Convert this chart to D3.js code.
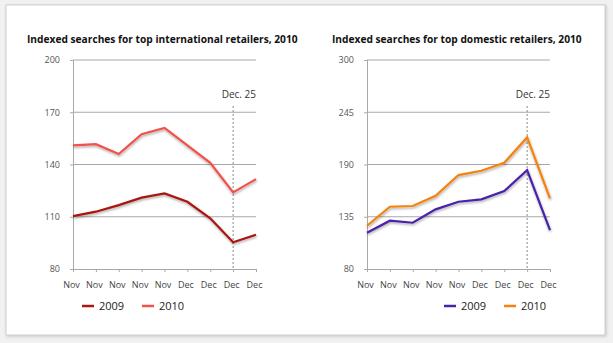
<!DOCTYPE html>
<html>
<head>
<meta charset="utf-8">
<script src="https://cdn.jsdelivr.net/npm/d3@7"></script>
<style>
  body { margin: 0; background: #f1f1f1; }
  text { font-family: "Open Sans", "Liberation Sans", sans-serif; }
</style>
</head>
<body>
<div id="root"></div>
<script>
// categories along the x axis
let months = ["Nov", "Nov", "Nov", "Nov", "Nov", "Dec", "Dec", "Dec", "Dec"];

// international retailers
let intl2009 = [110.4, 112.9, 116.7, 121, 123.4, 118.6, 109.1, 95.3, 99.7];
let intl2010 = [151, 151.7, 146, 157.4, 161, 151, 141, 124, 131.6];
let intlTicks = [80, 110, 140, 170, 200];

// domestic retailers
let dom2009 = [118.2, 130.8, 128.7, 142.8, 150.8, 153.3, 162, 184.1, 121];
let dom2010 = [125.5, 145.5, 146.3, 157, 178.9, 183.4, 191.8, 218.5, 154.3];
let domTicks = [80, 135, 190, 245, 300];

let xmasIndex = 7;

let W = 613, H = 343;

let svg = d3.select("#root").append("svg")
  .attr("width", W).attr("height", H);

// frame with soft shadow
let defs = svg.append("defs");
let f = defs.append("filter").attr("id", "sh").attr("x", "-5%").attr("y", "-5%").attr("width", "110%").attr("height", "110%");
f.append("feDropShadow").attr("dx", 1).attr("dy", 1).attr("stdDeviation", 1.5).attr("flood-color", "#999").attr("flood-opacity", 0.5);
let lf = defs.append("filter").attr("id", "lsh").attr("x", "-5%").attr("y", "-10%").attr("width", "110%").attr("height", "130%");
lf.append("feDropShadow").attr("dx", 0.5).attr("dy", 1.5).attr("stdDeviation", 0.8).attr("flood-color", "#000").attr("flood-opacity", 0.35);

svg.append("rect").attr("x", 6).attr("y", 5).attr("width", 599).attr("height", 330)
  .attr("fill", "#fff").attr("stroke", "#cfcfcf").attr("filter", "url(#sh)");

// draw one panel
const panel = (opt) => {
  let g = svg.append("g");

  let x = d3.scalePoint().domain(d3.range(months.length)).range([opt.left, opt.right]);
  let y = d3.scaleLinear().domain([opt.ticks[0], opt.ticks[opt.ticks.length - 1]]).range([269, 60]);

  // title
  g.append("text").attr("x", opt.titleX).attr("y", 42.5)
    .attr("font-size", 10.2).attr("font-weight", "bold").attr("fill", "#111")
    .text(opt.title);

  // gridlines
  g.selectAll(".grid").data(opt.ticks.slice(1)).enter().append("line")
    .attr("x1", opt.left).attr("x2", opt.right)
    .attr("y1", (d) => y(d)).attr("y2", (d) => y(d))
    .attr("stroke", "#a8a8a8").attr("stroke-width", 1);

  // y axis
  let yAxis = g.append("g").attr("transform", "translate(" + opt.left + ",0)")
    .call(d3.axisLeft(y).tickValues(opt.ticks).tickSize(3).tickPadding(10));
  yAxis.select(".domain").attr("stroke", "#a8a8a8");
  yAxis.selectAll(".tick line").attr("stroke", "#a8a8a8");
  yAxis.selectAll("text").attr("font-size", 9).attr("fill", "#555").attr("font-family", "Open Sans, sans-serif");

  // x axis
  let xAxis = g.append("g").attr("transform", "translate(0,269)")
    .call(d3.axisBottom(x).tickFormat((i) => months[i]).tickSize(3).tickPadding(10).tickSizeOuter(0));
  xAxis.select(".domain").attr("stroke", "#a8a8a8");
  xAxis.selectAll(".tick line").attr("stroke", "#a8a8a8");
  xAxis.selectAll("text").attr("font-size", 9).attr("fill", "#444").attr("dx", -2).attr("font-family", "Open Sans, sans-serif");

  // Dec. 25 marker
  g.append("line")
    .attr("x1", x(xmasIndex)).attr("x2", x(xmasIndex))
    .attr("y1", 106).attr("y2", 269)
    .attr("stroke", "#888").attr("stroke-dasharray", "2,2");
  g.append("text").attr("x", opt.right).attr("y", 97.5)
    .attr("text-anchor", "end").attr("font-size", 10).attr("fill", "#333")
    .text("Dec. 25");

  let line = d3.line().x((d, i) => x(i)).y((d) => y(d));

  opt.series.forEach((s) => {
    g.append("path").datum(s.values)
      .attr("d", line).attr("fill", "none")
      .attr("stroke", s.color).attr("stroke-width", 2.2)
      .attr("filter", "url(#lsh)");
  });

  // legend
  opt.series.forEach((s, i) => {
    let lx = opt.legendX + i * 60;
    g.append("line").attr("x1", lx).attr("x2", lx + 12).attr("y1", 306).attr("y2", 306)
      .attr("stroke", s.color).attr("stroke-width", 2.5);
    g.append("text").attr("x", lx + 17).attr("y", 310)
      .attr("font-size", 11).attr("fill", "#222").text(s.name);
  });
};

panel({
  title: "Indexed searches for top international retailers, 2010",
  titleX: 27, left: 73, right: 256, ticks: intlTicks, legendX: 82,
  series: [
    { name: "2009", values: intl2009, color: "#a8160f" },
    { name: "2010", values: intl2010, color: "#f2514b" }
  ]
});

panel({
  title: "Indexed searches for top domestic retailers, 2010",
  titleX: 332, left: 367, right: 550, ticks: domTicks, legendX: 444,
  series: [
    { name: "2009", values: dom2009, color: "#4a22aa" },
    { name: "2010", values: dom2010, color: "#f5820f" }
  ]
});
</script>
</body>
</html>
